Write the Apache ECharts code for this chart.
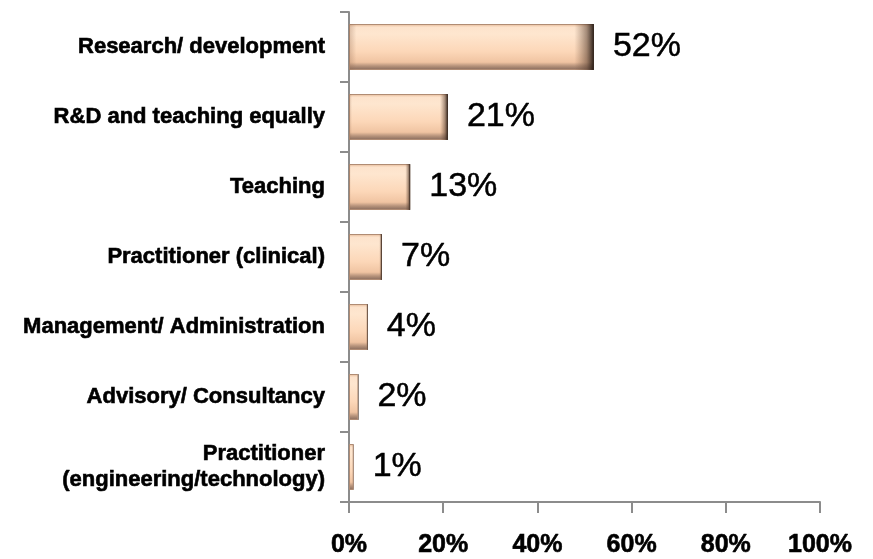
<!DOCTYPE html>
<html>
<head>
<meta charset="utf-8">
<script src="https://cdn.jsdelivr.net/npm/echarts@6/dist/echarts.min.js"></script>
<style>
  html, body { margin: 0; padding: 0; background: #ffffff; }
  #chart { width: 873px; height: 559px; }
</style>
</head>
<body>
<div id="chart"></div>
<script>
// Main work activity shares (percent of respondents)
const categories = [
  'Research/ development',
  'R&D and teaching equally',
  'Teaching',
  'Practitioner (clinical)',
  'Management/ Administration',
  'Advisory/ Consultancy',
  'Practitioner\n(engineering/technology)'
];
const shares = [52, 21, 13, 7, 4, 2, 1];
const axisTicks = [0, 20, 40, 60, 80, 100];

const chart = echarts.init(document.getElementById('chart'));

// Peach bar face with a bevelled look: shaded top rim, light band, shaded lower edge
const faceFill = new echarts.graphic.LinearGradient(0, 0, 0, 1, [
  { offset: 0.00, color: '#e4b896' },
  { offset: 0.07, color: '#fde3cc' },
  { offset: 0.22, color: '#fee6cf' },
  { offset: 0.60, color: '#fcd7b8' },
  { offset: 0.83, color: '#f0c4a2' },
  { offset: 0.91, color: '#b8947c' },
  { offset: 1.00, color: '#86695a' }
]);
// Darkened bar ends drawn over the face
const endShade = new echarts.graphic.LinearGradient(0, 0, 1, 0, [
  { offset: 0.00, color: 'rgba(150,110,85,0.35)' },
  { offset: 0.03, color: 'rgba(150,110,85,0)' },
  { offset: 0.92, color: 'rgba(120,90,70,0)' },
  { offset: 0.97, color: 'rgba(90,65,50,0.55)' },
  { offset: 1.00, color: 'rgba(30,20,15,0.95)' }
]);

const boldText = {
  color: '#000000',
  fontFamily: 'Liberation Sans, Arial, sans-serif',
  fontWeight: 'bold',
  textBorderColor: '#000000',
  textBorderWidth: 0.6
};

chart.setOption({
  animation: false,
  backgroundColor: '#ffffff',
  grid: { left: 349, top: 12, width: 471, height: 490, containLabel: false },
  xAxis: {
    type: 'value',
    min: axisTicks[0],
    max: axisTicks[axisTicks.length - 1],
    interval: axisTicks[1] - axisTicks[0],
    axisLine: { show: true, lineStyle: { color: '#8c8c8c', width: 2 } },
    axisTick: { show: true, length: 11, lineStyle: { color: '#8c8c8c', width: 2 } },
    splitLine: { show: false },
    axisLabel: Object.assign({ formatter: '{value}%', margin: 31, fontSize: 25 }, boldText)
  },
  yAxis: {
    type: 'category',
    data: categories,
    inverse: true,
    axisLine: { show: true, lineStyle: { color: '#8c8c8c', width: 2 } },
    axisTick: { show: true, length: 9, lineStyle: { color: '#8c8c8c', width: 2 } },
    axisLabel: Object.assign({ margin: 24, fontSize: 22, lineHeight: 26, align: 'right' }, boldText)
  },
  series: [
    {
      type: 'bar',
      data: shares,
      barWidth: 46,
      itemStyle: { color: faceFill, borderColor: '#b08c74', borderWidth: 1 },
      label: {
        show: true,
        position: 'right',
        distance: 19,
        formatter: '{c}%',
        color: '#000000',
        fontFamily: 'Liberation Sans, Arial, sans-serif',
        fontSize: 34,
        textBorderColor: '#000000',
        textBorderWidth: 0.5
      }
    },
    {
      type: 'bar',
      data: shares,
      barWidth: 46,
      barGap: '-100%',
      silent: true,
      itemStyle: { color: endShade },
      label: { show: false }
    }
  ]
});
</script>
</body>
</html>
